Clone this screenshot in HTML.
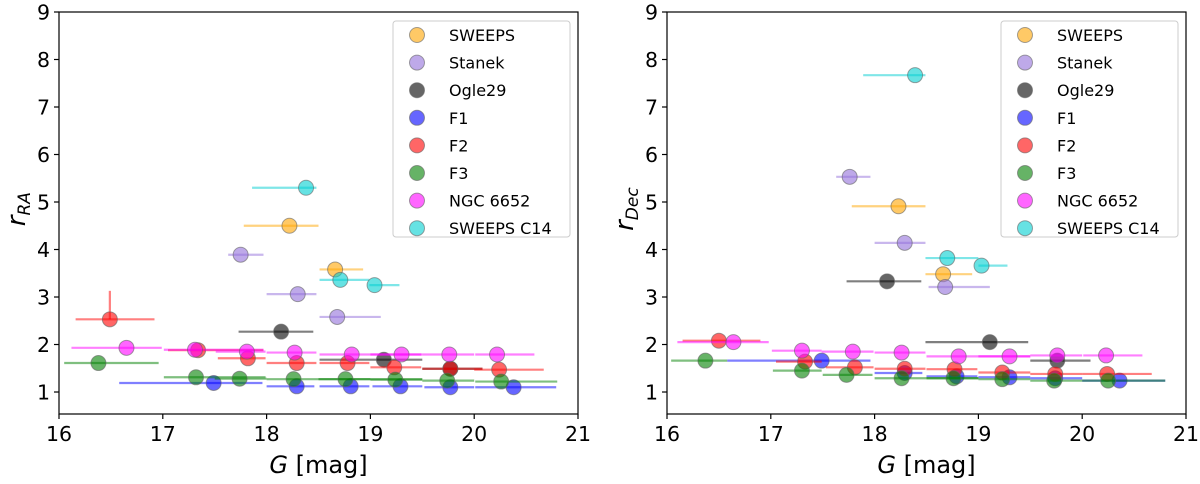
<!DOCTYPE html>
<html><head><meta charset="utf-8"><style>
html,body{margin:0;padding:0;background:#fff;}
svg{display:block;font-family:"DejaVu Sans","Liberation Sans",sans-serif;}
</style></head><body>
<svg id="fig" width="1200" height="484"></svg>
<script>
// series data: each point [G, r, G_lo, G_hi]
const seriesNames = ["SWEEPS","Stanek","Ogle29","F1","F2","F3","NGC 6652","SWEEPS C14"];
const seriesColors = ["orange","mediumpurple","black","blue","red","green","magenta","darkturquoise"];
const xTicks = [16,17,18,19,20,21];
const yTicks = [1,2,3,4,5,6,7,8,9];

const raSWEEPS = [[18.22,4.50,17.78,18.50],[18.66,3.58,18.51,18.93]];
const raStanek = [[17.75,3.89,17.63,17.97],[18.30,3.06,18.0,18.48],[18.68,2.58,18.51,19.1]];
const raOgle29 = [[18.14,2.27,17.73,18.45],[19.13,1.68,18.51,19.5],[19.77,1.49,19.5,20.08]];
const raF1 = [[17.49,1.19,16.58,17.96],[18.29,1.12,18.0,18.46],[18.81,1.12,18.51,18.99],[19.29,1.12,19.02,19.5],[19.77,1.10,19.52,20.0],[20.38,1.10,20.01,20.79]];
const raF2 = [[16.49,2.53,16.16,16.92],[17.34,1.88,17.05,17.97],[17.82,1.71,17.53,17.99],[18.29,1.61,18.0,18.48],[18.78,1.61,18.51,18.99],[19.23,1.52,19.0,19.49],[19.77,1.49,19.5,20.08],[20.24,1.47,20.0,20.67]];
const raF3 = [[16.38,1.61,16.05,16.96],[17.32,1.31,17.01,17.99],[17.74,1.28,17.5,18.0],[18.26,1.27,18.0,19.5],[18.76,1.27,18.5,19.0],[19.24,1.26,19.0,19.5],[19.74,1.24,19.5,20.0],[20.26,1.22,20.01,20.8]];
const raNGC = [[16.65,1.93,16.12,16.99],[17.31,1.89,17.01,17.97],[17.81,1.85,17.51,17.99],[18.27,1.83,18.0,18.48],[18.82,1.79,18.51,19.49],[19.30,1.79,19.0,19.5],[19.76,1.79,19.5,20.0],[20.22,1.79,20.01,20.58]];
const raC14 = [[18.38,5.30,17.86,18.48],[18.71,3.36,18.51,18.99],[19.04,3.25,18.99,19.28]];
const raRedYerr = [16.49,2.53,3.13];

const decSWEEPS = [[18.23,4.91,17.78,18.49],[18.66,3.48,18.49,18.94]];
const decStanek = [[17.76,5.53,17.63,17.96],[18.29,4.14,18.0,18.49],[18.68,3.21,18.52,19.11]];
const decOgle29 = [[18.12,3.33,17.73,18.45],[19.11,2.05,18.49,19.48],[19.76,1.66,19.5,20.08]];
const decF1 = [[17.49,1.66,16.58,17.96],[18.29,1.40,18.0,18.46],[18.79,1.33,18.5,18.99],[19.30,1.31,19.0,19.5],[19.74,1.29,19.5,20.0],[20.36,1.24,20.0,20.8]];
const decF2 = [[16.50,2.08,16.15,16.9],[17.33,1.64,17.05,17.49],[17.81,1.52,17.53,17.99],[18.29,1.49,18.0,18.49],[18.77,1.48,18.5,18.99],[19.23,1.41,19.0,19.5],[19.74,1.38,19.5,20.0],[20.24,1.38,20.0,20.67]];
const decF3 = [[16.37,1.66,16.04,16.58],[17.30,1.45,17.02,17.49],[17.73,1.36,17.5,17.98],[18.26,1.29,18.0,19.0],[18.76,1.29,18.5,19.0],[19.23,1.27,19.0,19.5],[19.73,1.24,19.5,20.0],[20.25,1.24,20.0,20.8]];
const decNGC = [[16.64,2.05,16.1,16.98],[17.30,1.87,17.01,17.49],[17.79,1.85,17.49,17.99],[18.26,1.83,18.0,18.49],[18.81,1.75,18.5,19.5],[19.30,1.75,19.0,19.5],[19.76,1.77,19.5,20.0],[20.23,1.77,20.01,20.58]];
const decC14 = [[18.39,7.67,17.89,18.49],[18.70,3.82,18.49,19.0],[19.03,3.66,19.0,19.28]];

const NS="http://www.w3.org/2000/svg";
const svg=document.getElementById('fig');
function el(tag,attrs,parent){const e=document.createElementNS(NS,tag);for(const k in attrs)e.setAttribute(k,attrs[k]);(parent||svg).appendChild(e);return e;}

const Y0=0.537, Y1=9.0;
function panel(p){
  const g=el('g',{});
  
  
  const X=v=>p.x0+(v-16)/5*(p.x1-p.x0);
  const Y=v=>p.yb-(v-Y0)/(Y1-Y0)*(p.yb-p.yt);
  p.data.forEach((arr,si)=>{
    const sg=el('g',{},g);
    
    
    arr.forEach(d=>{
      const l=el('line',{x1:X(d[2]),x2:X(d[3]),y1:Y(d[1]),y2:Y(d[1]),stroke:seriesColors[si],'stroke-width':2.2,'stroke-opacity':0.5},sg);
      
      
    });
    if(p.yerr && si===4){
      const l=el('line',{x1:X(p.yerr[0]),x2:X(p.yerr[0]),y1:Y(p.yerr[1]),y2:Y(p.yerr[2]),stroke:'red','stroke-width':2.2,'stroke-opacity':0.5},sg);
      
      
    }
    arr.forEach(d=>{
      const c=el('circle',{cx:X(d[0]),cy:Y(d[1]),r:7.5,fill:seriesColors[si],'fill-opacity':0.6,stroke:'#666','stroke-opacity':0.6,'stroke-width':1},sg);
      
      
    });
  });
  const fr=el('rect',{x:p.x0,y:p.yt,width:p.x1-p.x0,height:p.yb-p.yt,fill:'none',stroke:'#000','stroke-width':1.2},g);
  
  
  xTicks.forEach(t=>{
    el('line',{x1:X(t),x2:X(t),y1:p.yb,y2:p.yb+5,stroke:'#000','stroke-width':1.2},g);
    const tx=el('text',{x:X(t),y:p.yb+27,'text-anchor':'middle','font-size':20.5,fill:'#000'},g);
    tx.textContent=t;
    
    
  });
  yTicks.forEach(t=>{
    el('line',{x1:p.x0-5,x2:p.x0,y1:Y(t),y2:Y(t),stroke:'#000','stroke-width':1.2},g);
    const tx=el('text',{x:p.x0-9,y:Y(t)+7.5,'text-anchor':'end','font-size':20.5,fill:'#000'},g);
    tx.textContent=t;
    
    
  });
  const xl=el('text',{x:(p.x0+p.x1)/2,y:473,'text-anchor':'middle','font-size':24,fill:'#000'},g);
  xl.innerHTML='<tspan font-style="italic">G</tspan> [mag]';
  
  
  const yl=el('text',{transform:`translate(${p.x0-34},${Y(4.85)}) rotate(-90)`,'text-anchor':'middle','font-size':26,fill:'#000'},g);
  yl.innerHTML='<tspan font-style="italic">r</tspan><tspan font-style="italic" font-size="17" dy="5">'+p.sub+'</tspan>';
  
  
  const lg=el('g',{},g);
  
  
  const lx=p.x1-185;
  el('rect',{x:lx,y:21,width:177,height:216,rx:3,fill:'#fff','fill-opacity':0.85,stroke:'#ccc'},lg);
  seriesNames.forEach((n,i)=>{
    const yy=35+i*27.6;
    const e=el('g',{},lg);
    
    
    el('circle',{cx:lx+24,cy:yy,r:7.5,fill:seriesColors[i],'fill-opacity':0.6,stroke:'#666','stroke-opacity':0.6},e);
    const t=el('text',{x:lx+56,y:yy+6,'font-size':16,fill:'#000'},e);
    t.textContent=n;
  });
}
panel({name:'ra-panel',x0:59,x1:578,yt:12,yb:414,sub:'RA',yerr:raRedYerr,
  data:[raSWEEPS,raStanek,raOgle29,raF1,raF2,raF3,raNGC,raC14]});
panel({name:'dec-panel',x0:667,x1:1186,yt:12,yb:414,sub:'Dec',
  data:[decSWEEPS,decStanek,decOgle29,decF1,decF2,decF3,decNGC,decC14]});
</script>
</body></html>
